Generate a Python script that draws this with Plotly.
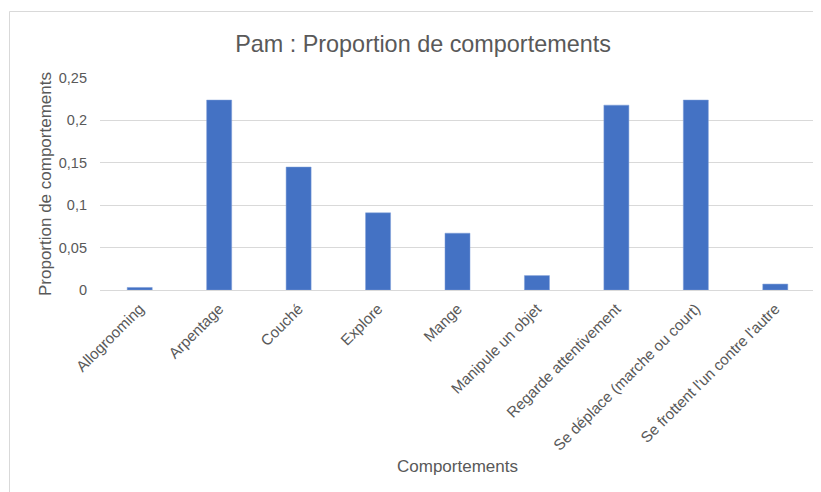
import plotly.graph_objects as go

categories = [
    "Allogrooming",
    "Arpentage",
    "Couché",
    "Explore",
    "Mange",
    "Manipule un objet",
    "Regarde attentivement",
    "Se déplace (marche ou court)",
    "Se frottent l'un contre l'autre",
]
proportions = [0.003, 0.224, 0.145, 0.091, 0.067, 0.017, 0.218, 0.224, 0.007]
y_tickvals = [0, 0.05, 0.1, 0.15, 0.2, 0.25]
y_ticktext = ["0", "0,05", "0,1", "0,15", "0,2", "0,25"]

FONT = "Liberation Sans, Arial, sans-serif"
GREY = "#595959"

# the page body has an 8px margin; the figure is sized to fit the window
W, H = 813, 484
OFF = 8

fig = go.Figure(
    go.Bar(
        x=categories,
        y=proportions,
        marker=dict(color="#4472C4", line=dict(color="#7f9fd9", width=0.5)),
    )
)

fig.update_layout(
    width=W,
    height=H,
    margin=dict(l=100 - OFF, r=6, t=78 - OFF, b=202, autoexpand=False),
    paper_bgcolor="white",
    plot_bgcolor="white",
    bargap=0.685,
    showlegend=False,
    font=dict(family=FONT, color=GREY, size=14.5),
    title=dict(
        text="Pam : Proportion de comportements",
        x=(423 - OFF) / W,
        xanchor="center",
        y=1 - (44 - OFF) / H,
        yanchor="middle",
        font=dict(family=FONT, size=23.4, color=GREY),
    ),
    xaxis=dict(
        tickangle=-45,
        showgrid=False,
        showline=False,
        ticks="outside",
        ticklen=3,
        tickcolor="rgba(0,0,0,0)",
        tickfont=dict(family=FONT, size=15.2, color=GREY),
        automargin=False,
    ),
    yaxis=dict(
        range=[0, 0.25],
        tickvals=y_tickvals,
        ticktext=y_ticktext,
        showgrid=True,
        gridcolor="#d9d9d9",
        gridwidth=1,
        zeroline=True,
        zerolinecolor="#d9d9d9",
        zerolinewidth=1,
        showline=False,
        ticklabelstandoff=12,
        tickfont=dict(family=FONT, size=14.5, color=GREY),
        automargin=False,
    ),
    annotations=[
        dict(
            text="Comportements",
            xref="paper",
            yref="paper",
            x=0.5,
            y=(290 - 466) / 212,
            xanchor="center",
            yanchor="middle",
            showarrow=False,
            font=dict(family=FONT, size=17, color=GREY),
        ),
        dict(
            text="Proportion de comportements",
            xref="paper",
            yref="paper",
            x=(45 - 100) / 715,
            y=0.5,
            xanchor="center",
            yanchor="middle",
            textangle=-90,
            showarrow=False,
            font=dict(family=FONT, size=17, color=GREY),
        ),
    ],
    shapes=[
        dict(
            type="rect",
            xref="paper",
            yref="paper",
            x0=(9.5 - 100) / 715,
            x1=(840 - 100) / 715,
            y0=(290 - 510) / 212,
            y1=(290 - 11.5) / 212,
            line=dict(color="#d9d9d9", width=1),
            fillcolor="rgba(0,0,0,0)",
            layer="below",
        )
    ],
)

fig.write_html("out.html")
